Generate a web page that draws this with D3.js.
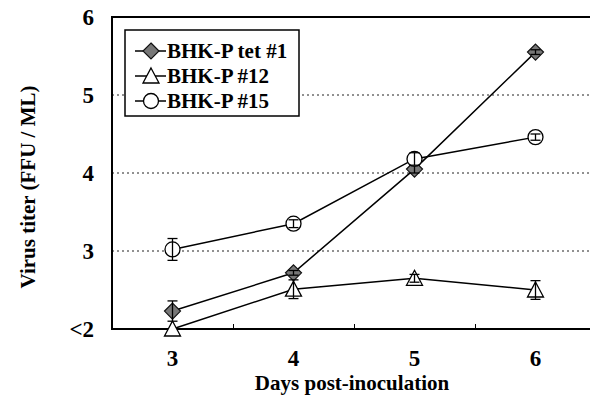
<!DOCTYPE html>
<html>
<head>
<meta charset="utf-8">
<script src="https://cdn.jsdelivr.net/npm/d3@7"></script>
<style>
  body { margin: 0; background: #fff; }
</style>
</head>
<body>
<div id="chart"></div>
<script>
var w = 590,
    h = 404,
    font = "'Liberation Serif', 'Times New Roman', Times, serif";

// data
var days = [3, 4, 5, 6];
var tet1 = [2.23, 2.72, 4.05, 5.55],
    tet1Err = [0.13, 0.03, 0.05, 0.03];
var p12 = [2.0, 2.51, 2.65, 2.5],
    p12Err = [0, 0.12, 0.05, 0.12];
var p15 = [3.02, 3.35, 4.18, 4.46],
    p15Err = [0.14, 0.05, 0.08, 0.04];
var yTicks = [2, 3, 4, 5, 6],
    yTickLabels = ["<2", "3", "4", "5", "6"];
var seriesNames = ["BHK-P tet #1", "BHK-P #12", "BHK-P #15"];

var series = [
  { name: seriesNames[0], vals: tet1, err: tet1Err, shape: "diamond" },
  { name: seriesNames[1], vals: p12, err: p12Err, shape: "triangle" },
  { name: seriesNames[2], vals: p15, err: p15Err, shape: "circle" }
];

var x = d3.scaleLinear().domain([2.5, 6.5]).range([112, 596]),
    y = d3.scaleLinear().domain([2, 6]).range([329, 17]);

var svg = d3.select("#chart").append("svg")
    .attr("width", w)
    .attr("height", h)
    .attr("font-family", font)
    .attr("font-weight", "bold")
    .style("display", "block");

// gridlines
svg.selectAll("line.grid")
    .data([3, 4, 5])
  .enter().append("line")
    .attr("class", "grid")
    .attr("x1", x.range()[0]).attr("x2", w)
    .attr("y1", function(d) { return y(d); })
    .attr("y2", function(d) { return y(d); })
    .attr("stroke", "#222")
    .attr("stroke-width", 1)
    .attr("stroke-dasharray", "2,3");

// frame: top, left, bottom
svg.append("path")
    .attr("d", "M" + w + "," + y(6) + "H" + x(2.5) + "V" + y(2) + "H" + w)
    .attr("fill", "none")
    .attr("stroke", "#000")
    .attr("stroke-width", 2);

// x axis with inside ticks between categories
var xAxis = d3.axisBottom(x)
    .tickValues([3.5, 4.5, 5.5])
    .tickSize(-5)
    .tickFormat("");
svg.append("g")
    .attr("transform", "translate(0," + y(2) + ")")
    .call(xAxis)
    .call(function(g) {
      g.select(".domain").remove();
      g.selectAll("line").attr("stroke", "#000");
    });

// x labels
svg.selectAll("text.xlab")
    .data(days)
  .enter().append("text")
    .attr("class", "xlab")
    .attr("x", function(d) { return x(d); })
    .attr("y", 366)
    .attr("text-anchor", "middle")
    .attr("font-size", 23)
    .text(function(d) { return d; });

// y labels
svg.selectAll("text.ylab")
    .data(yTicks)
  .enter().append("text")
    .attr("class", "ylab")
    .attr("x", 94)
    .attr("y", function(d) { return y(d) + 8; })
    .attr("text-anchor", "end")
    .attr("font-size", 23)
    .text(function(d, i) { return yTickLabels[i]; });

// axis titles
svg.append("text")
    .attr("x", 352).attr("y", 390)
    .attr("text-anchor", "middle")
    .attr("font-size", 21)
    .text("Days post-inoculation");

svg.append("text")
    .attr("transform", "translate(35," + 187 + ")rotate(-90)")
    .attr("text-anchor", "middle")
    .attr("font-size", 21)
    .text("Virus titer (FFU / ML)");

var line = d3.line()
    .x(function(d, i) { return x(days[i]); })
    .y(function(d) { return y(d); });

function marker(sel, shape) {
  if (shape === "diamond") {
    sel.append("path")
        .attr("d", "M0,-8L8,0L0,8L-8,0Z")
        .attr("fill", "#777")
        .attr("stroke", "#111")
        .attr("stroke-width", 1.2);
  } else if (shape === "triangle") {
    sel.append("path")
        .attr("d", "M0,-8L8,7L-8,7Z")
        .attr("fill", "#fff")
        .attr("stroke", "#000")
        .attr("stroke-width", 1.3);
  } else {
    sel.append("circle")
        .attr("r", 7.5)
        .attr("fill", "#fff")
        .attr("stroke", "#000")
        .attr("stroke-width", 1.3);
  }
}

var g = svg.selectAll("g.series")
    .data(series)
  .enter().append("g")
    .attr("class", "series");

g.append("path")
    .attr("d", function(d) { return line(d.vals); })
    .attr("fill", "none")
    .attr("stroke", "#000")
    .attr("stroke-width", 1.5);

g.each(function(s) {
  var sg = d3.select(this);
  s.vals.forEach(function(v, i) {
    var m = sg.append("g")
        .attr("transform", "translate(" + x(days[i]) + "," + y(v) + ")");
    marker(m, s.shape);
    var e = s.err[i];
    if (e > 0) {
      var eg = sg.append("g").attr("stroke", "#000").attr("stroke-width", 1.3);
      eg.append("line")
          .attr("x1", x(days[i])).attr("x2", x(days[i]))
          .attr("y1", y(v - e)).attr("y2", y(v + e));
      [v - e, v + e].forEach(function(c) {
        eg.append("line")
            .attr("x1", x(days[i]) - 5).attr("x2", x(days[i]) + 5)
            .attr("y1", y(c)).attr("y2", y(c));
      });
    }
  });
});

// legend
var leg = svg.append("g");
leg.append("rect")
    .attr("x", 125).attr("y", 30)
    .attr("width", 174).attr("height", 86)
    .attr("fill", "#fff")
    .attr("stroke", "#000")
    .attr("stroke-width", 1.5);

var li = leg.selectAll("g.item")
    .data(series)
  .enter().append("g")
    .attr("class", "item")
    .attr("transform", function(d, i) { return "translate(0," + (51 + i * 25) + ")"; });

li.append("line")
    .attr("x1", 135).attr("x2", 166)
    .attr("stroke", "#000")
    .attr("stroke-width", 1.5);
li.each(function(d) {
  var m = d3.select(this).append("g").attr("transform", "translate(151,0)");
  marker(m, d.shape);
});
li.append("text")
    .attr("x", 167).attr("y", 7)
    .attr("font-size", 21)
    .text(function(d) { return d.name; });
</script>
</body>
</html>
